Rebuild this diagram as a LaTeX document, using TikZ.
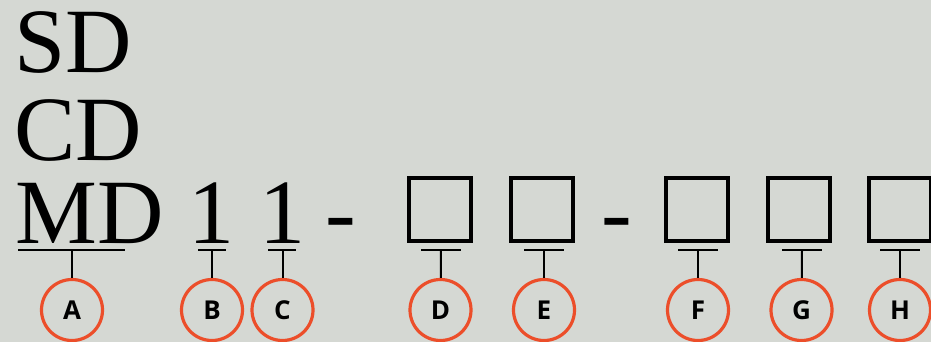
\documentclass[tikz,border=0pt]{standalone}
\usepackage{fontspec}
\setmainfont{Liberation Serif}
\newfontfamily\labfont{Open Sans}
\definecolor{paper}{RGB}{213,216,211}
\definecolor{ring}{RGB}{236,78,42}

\begin{document}
\begin{tikzpicture}[x=1pt,y=-1pt,
  big/.style={inner sep=0pt, outer sep=0pt, font=\fontsize{92}{92}\selectfont, anchor=base west},
  bigc/.style={big, anchor=base},
  slot/.style={draw, line width=4pt, minimum width=62pt, minimum height=63pt, inner sep=0pt},
  tick/.style={line width=2.4pt},
  stem/.style={line width=2pt},
  badge/.style={circle, draw=ring, line width=3.2pt, minimum size=61pt, inner sep=0pt,
    font=\labfont\bfseries\fontsize{26}{26}\selectfont},
]
% canvas
\fill[paper] (0,0) rectangle (931,342);
\useasboundingbox (0,0) rectangle (931,342);

% code lines
\node[big] (sd) at (14.5,73) {SD};
\node[big] (cd) at (14,160) {CD};
\node[big] (md) at (15.5,243) {MD};
\node[bigc] (one1) at (211.5,243) {1};
\node[bigc] (one2) at (282,243) {1};
\node[bigc] (dash1) at (341,243) {-};
\node[bigc] (dash2) at (616.5,243) {-};

% empty slots
\node[slot] (sD) at (440,209.5) {};
\node[slot] (sE) at (541.5,209.5) {};
\node[slot] (sF) at (697,209.5) {};
\node[slot] (sG) at (798.5,209.5) {};
\node[slot] (sH) at (900,209.5) {};

% underlines
\draw[tick] (18,250) -- (125,250);
\draw[tick] (198,250) -- (226,250);
\draw[tick] (268,250) -- (296,250);
\draw[tick] (421,250) -- (461,250);
\draw[tick] (524,250) -- (564,250);
\draw[tick] (678,250) -- (718,250);
\draw[tick] (782,250) -- (822,250);
\draw[tick] (880,250) -- (920,250);

\coordinate (uA) at (72,250);
\coordinate (uB) at (212,250);
\coordinate (uC) at (282.5,250);
\coordinate (uD) at (441,250);
\coordinate (uE) at (544,250);
\coordinate (uF) at (698,250);
\coordinate (uG) at (802,250);
\coordinate (uH) at (900,250);

% lettered badges
\node[badge] (A) at (72,310) {A};
\node[badge] (B) at (212,310) {B};
\node[badge] (C) at (282.5,310) {C};
\node[badge] (D) at (440.5,310) {D};
\node[badge] (E) at (544,310) {E};
\node[badge] (F) at (698,310) {F};
\node[badge] (G) at (801.5,310) {G};
\node[badge] (H) at (900,310) {H};

% stems
\foreach \k in {A,B,C,D,E,F,G,H}
  \draw[stem] (u\k) -- (\k);
\end{tikzpicture}
\end{document}
